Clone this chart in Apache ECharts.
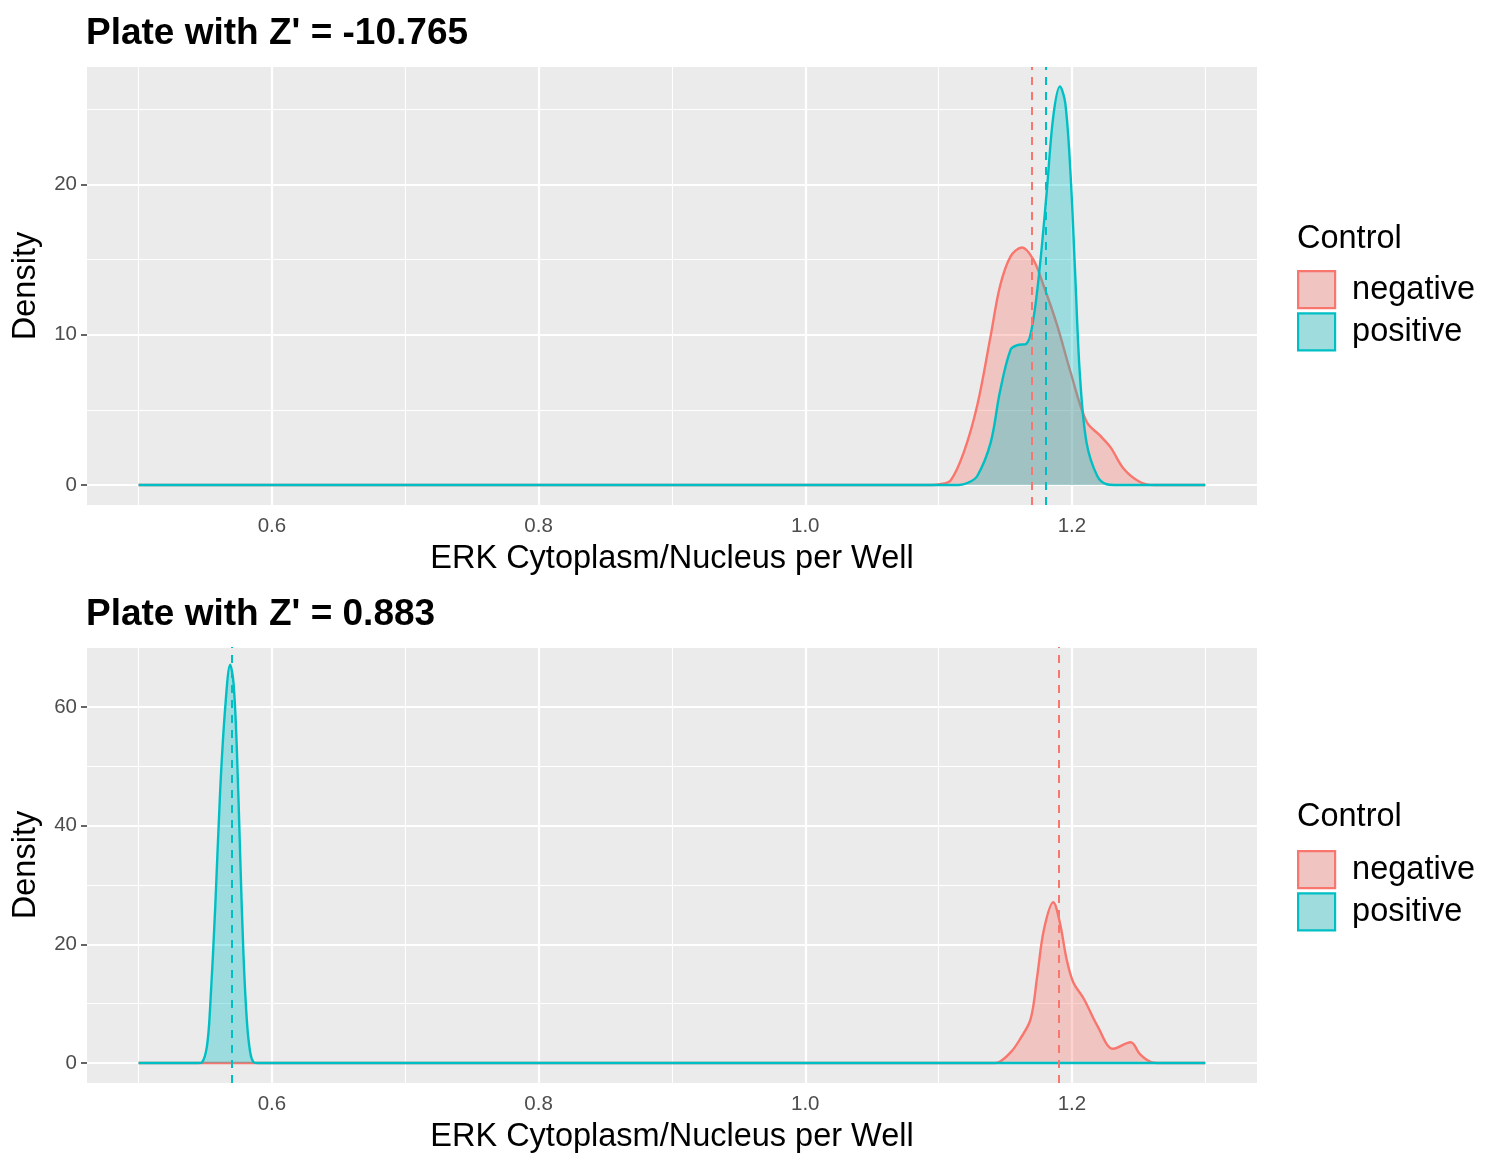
<!DOCTYPE html>
<html><head><meta charset="utf-8">
<script src="https://cdn.jsdelivr.net/npm/echarts@6/dist/echarts.min.js"></script>
<style>html,body{margin:0;padding:0;background:#fff}#c{width:1512px;height:1170px}</style>
</head><body><div id="c"></div>
<script>
const titles = ["Plate with Z' = -10.765", "Plate with Z' = 0.883"];
const legendTitle = 'Control';
const seriesNames = ['negative', 'positive'];
const xAxisTitle = 'ERK Cytoplasm/Nucleus per Well';
const yAxisTitle = 'Density';
const xTicks = [0.6, 0.8, 1.0, 1.2];
const xMinor = [0.5, 0.7, 0.9, 1.1, 1.3];
const yTicksTop = [0, 10, 20];
const yMinorTop = [5, 15, 25];
const yTicksBot = [0, 20, 40, 60];
const yMinorBot = [10, 30, 50, 70];

const topNegative = [[0.5,0],[1.095,0],[1.101,0.05],[1.109,0.3],[1.119,2.2],[1.129,5.3],[1.139,9.9],[1.146,13.2],[1.154,15.2],[1.1625,15.8],[1.171,15.0],[1.179,13.2],[1.189,10.6],[1.199,7.5],[1.211,4.2],[1.221,3.3],[1.229,2.5],[1.239,1.06],[1.251,0.2],[1.262,0],[1.3,0]];
const topPositive = [[0.5,0],[1.115,0],[1.122,0.15],[1.129,0.6],[1.139,2.8],[1.146,6.2],[1.154,9.0],[1.159,9.3],[1.166,9.4],[1.171,11.0],[1.176,14.6],[1.181,19.4],[1.186,24.5],[1.191,26.5],[1.195,25.4],[1.199,20.6],[1.2025,13.9],[1.206,7.3],[1.211,2.8],[1.219,0.6],[1.226,0.05],[1.232,0],[1.3,0]];
const bottomNegative = [[0.5,0],[1.14,0],[1.1438,0.05],[1.154,1.8],[1.161,4.0],[1.169,7.4],[1.174,14.7],[1.179,22.5],[1.186,27.1],[1.191,23.6],[1.196,17.5],[1.201,13.6],[1.209,10.8],[1.219,6.3],[1.231,2.4],[1.244,3.5],[1.251,1.5],[1.259,0.2],[1.266,0],[1.3,0]];
const bottomPositive = [[0.5,0],[0.545,0],[0.5475,0.1],[0.5513,2.9],[0.5537,9.6],[0.5575,26.4],[0.5612,46],[0.565,60],[0.5687,67.1],[0.5712,64],[0.5737,52.8],[0.5762,34.8],[0.5787,18],[0.5813,6.8],[0.5837,1.8],[0.586,0.2],[0.589,0],[1.3,0]];
const meanNegative = [1.1695, 1.194];
const meanPositive = [1.1805, 0.568];

const xRange = [0.4613, 1.3388];
const yRangeTop = [-1.33, 27.8];
const yRangeBot = [-3.36, 70.1];

const FONT = "'Liberation Sans', Arial, Helvetica, sans-serif";
const lineColors = ['#F8766D', '#00BFC4'];
const fillColors = ['rgba(248,118,109,0.33)', 'rgba(0,191,196,0.33)'];
const keyColors = ['#EFC4C1', '#9EDCDE'];

const panels = [
  {data: [topNegative, topPositive], yTicks: yTicksTop, yMinor: yMinorTop, yRange: yRangeTop, top: 67, height: 438, titleTop: 15, ctrlTop: 223, legTop: 270},
  {data: [bottomNegative, bottomPositive], yTicks: yTicksBot, yMinor: yMinorBot, yRange: yRangeBot, top: 647, height: 436, titleTop: 596, ctrlTop: 801, legTop: 850}
];

const grid = [], xAxis = [], yAxis = [], series = [], title = [], legend = [];
panels.forEach((p, i) => {
  grid.push({left: 87, top: p.top, width: 1170, height: p.height, show: true, backgroundColor: '#EBEBEB', borderWidth: 0, containLabel: false, outerBoundsMode: 'none'});
  xAxis.push({
    type: 'value', gridIndex: i, min: xRange[0], max: xRange[1],
    axisLine: {show: false},
    axisTick: {show: true, customValues: xTicks, length: 6, lineStyle: {color: '#333333', width: 1.5}},
    axisLabel: {customValues: xTicks, formatter: v => Number(v).toFixed(1), color: '#4D4D4D', fontSize: 20.5, margin: 11, fontFamily: FONT},
    splitLine: {show: false},
    name: xAxisTitle, nameLocation: 'middle', nameGap: 38,
    nameTextStyle: {fontSize: 32.5, color: '#000', fontFamily: FONT}
  });
  yAxis.push({
    type: 'value', gridIndex: i, min: p.yRange[0], max: p.yRange[1],
    axisLine: {show: false},
    axisTick: {show: true, customValues: p.yTicks, length: 6, lineStyle: {color: '#333333', width: 1.5}},
    axisLabel: {customValues: p.yTicks, formatter: v => String(Math.round(v)), color: '#4D4D4D', fontSize: 20.5, margin: 10, fontFamily: FONT},
    splitLine: {show: false},
    name: yAxisTitle, nameLocation: 'middle', nameGap: 44, nameRotate: 90,
    nameTextStyle: {fontSize: 32.5, color: '#000', fontFamily: FONT}
  });
  // grid lines
  const gl = [];
  xTicks.forEach(v => gl.push({xAxis: v, lineStyle: {width: 2.2}}));
  xMinor.forEach(v => gl.push({xAxis: v, lineStyle: {width: 1.1}}));
  p.yTicks.forEach(v => gl.push({yAxis: v, lineStyle: {width: 2.2}}));
  p.yMinor.forEach(v => gl.push({yAxis: v, lineStyle: {width: 1.1}}));
  series.push({
    type: 'line', xAxisIndex: i, yAxisIndex: i, z: 1, data: [[xRange[0], 0]], symbol: 'none', lineStyle: {opacity: 0}, silent: true,
    markLine: {z: 1, silent: true, symbol: ['none', 'none'], label: {show: false}, animation: false,
      lineStyle: {color: '#FFFFFF', type: 'solid'}, emphasis: {disabled: true}, data: gl}
  });
  seriesNames.forEach((n, k) => {
    series.push({
      name: n, type: 'line', xAxisIndex: i, yAxisIndex: i, z: 2 + k, data: p.data[k],
      smooth: 0.35, symbol: 'none', showSymbol: false,
      lineStyle: {color: lineColors[k], width: 2.4},
      itemStyle: {color: lineColors[k]},
      areaStyle: {color: fillColors[k], opacity: 1},
      emphasis: {disabled: true}
    });
  });
  // mean lines
  const means = [meanNegative[i], meanPositive[i]];
  means.forEach((m, k) => {
    series.push({
      type: 'line', xAxisIndex: i, yAxisIndex: i, z: 8, data: [[xRange[0], 0]], symbol: 'none', lineStyle: {opacity: 0}, silent: true,
      markLine: {z: 8, silent: true, symbol: ['none', 'none'], label: {show: false}, animation: false, emphasis: {disabled: true},
        lineStyle: {color: lineColors[k], type: [8, 7], width: 2}, data: [{xAxis: m}]}
    });
  });
  title.push({text: titles[i], left: 86, top: p.titleTop, padding: 0,
    textStyle: {fontSize: 37, fontWeight: 'bold', color: '#000', fontFamily: FONT}});
  title.push({text: legendTitle, left: 1297, top: p.ctrlTop, padding: 0,
    textStyle: {fontSize: 32.5, fontWeight: 'normal', color: '#000', fontFamily: FONT}});
  legend.push({
    orient: 'vertical', left: 1297, top: p.legTop, padding: 0, itemWidth: 37, itemHeight: 37, itemGap: 3,
    icon: 'rect', selectedMode: false,
    data: seriesNames.map((n, k) => ({name: n, itemStyle: {color: keyColors[k], borderColor: lineColors[k], borderWidth: 2.2}})),
    textStyle: {fontSize: 32.5, color: '#000', fontFamily: FONT, padding: [4, 0, 0, 12]}
  });
});

const chart = echarts.init(document.getElementById('c'), null, {renderer: 'canvas'});
chart.setOption({animation: false, backgroundColor: '#fff', textStyle: {fontFamily: FONT}, grid, xAxis, yAxis, series, title, legend});
</script></body></html>
